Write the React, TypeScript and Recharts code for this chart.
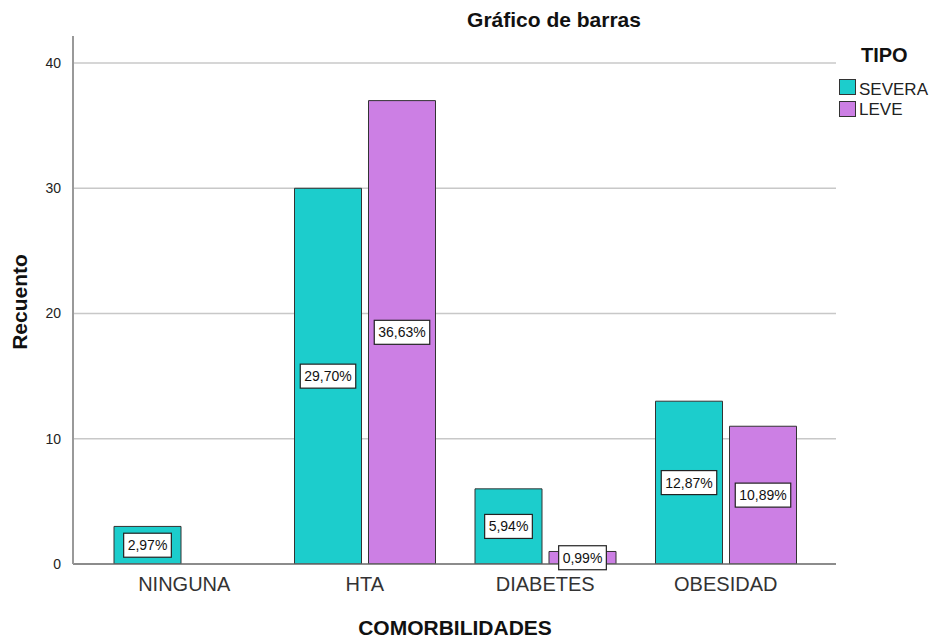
import React from 'react';
import { BarChart, Bar, XAxis, YAxis, CartesianGrid, LabelList } from 'recharts';

const categories = ['NINGUNA', 'HTA', 'DIABETES', 'OBESIDAD'];
const severa = [3, 30, 6, 13];
const leve: (number | null)[] = [null, 37, 1, 11];
const severaPct = ['2,97%', '29,70%', '5,94%', '12,87%'];
const levePct = ['', '36,63%', '0,99%', '10,89%'];
const yTicks = [0, 10, 20, 30, 40];
const gridValues = [10, 20, 30, 40];

const data = categories.map((c, i) => ({
  cat: c,
  severa: severa[i],
  leve: leve[i],
  severaPct: severaPct[i],
  levePct: levePct[i],
}));

const FONT = '"Liberation Sans", Arial, sans-serif';
const TEAL = '#1ccdcc';
const PURPLE = '#cc7fe4';

const charW = (ch: string) => (ch === ',' ? 0.278 : ch === '%' ? 0.889 : 0.556);

const PctLabel = (props: any) => {
  const { x, y, width, height, value } = props;
  if (!value) return null;
  const fs = 14;
  const tw = String(value).split('').reduce((s: number, ch: string) => s + charW(ch), 0) * fs;
  const w = tw + 8;
  const h = 24;
  const cx = Number(x) + Number(width) / 2;
  const cy = Number(y) + Number(height) / 2;
  return (
    <g>
      <rect x={cx - w / 2} y={cy - h / 2} width={w} height={h} fill="#fff" stroke="#222" strokeWidth={1.2} />
      <text x={cx} y={cy} textAnchor="middle" dominantBaseline="central" fontSize={fs} fontFamily={FONT} fill="#111">
        {value}
      </text>
    </g>
  );
};

export default function App() {
  return (
    <div style={{ position: 'absolute', left: 0, top: 0, width: 934, height: 639, background: '#fff', fontFamily: FONT }}>
      <BarChart
        width={934}
        height={639}
        data={data}
        margin={{ top: 36, right: 98, bottom: 45, left: 0 }}
        barGap={7}
        barCategoryGap={20}
      >
        <CartesianGrid horizontal vertical={false} horizontalValues={gridValues} stroke="#c8c8c8" strokeWidth={1.5} />
        <XAxis
          dataKey="cat"
          height={30}
          padding={{ left: 21, right: 20 }}
          tickLine={false}
          axisLine={{ stroke: '#666', strokeWidth: 1.3 }}
          tick={{ fontSize: 20, fill: '#333', fontFamily: FONT }}
          tickMargin={7}
        />
        <YAxis
          width={73}
          domain={[0, 42.16]}
          ticks={yTicks}
          tickLine={false}
          axisLine={{ stroke: '#999', strokeWidth: 2 }}
          tick={{ fontSize: 14, fill: '#222', fontFamily: FONT }}
          tickMargin={6}
          allowDataOverflow
        />
        <Bar dataKey="severa" fill={TEAL} stroke="#333" strokeWidth={1} isAnimationActive={false}>
          <LabelList dataKey="severaPct" content={PctLabel} />
        </Bar>
        <Bar dataKey="leve" fill={PURPLE} stroke="#333" strokeWidth={1} isAnimationActive={false}>
          <LabelList dataKey="levePct" content={PctLabel} />
        </Bar>
      </BarChart>
      <div style={{ position: 'absolute', left: 404, top: 8, width: 300, textAlign: 'center', fontSize: 21, fontWeight: 'bold', color: '#111', whiteSpace: 'nowrap' }}>
        Gráfico de barras
      </div>
      <div style={{ position: 'absolute', left: 305, top: 616, width: 300, textAlign: 'center', fontSize: 21, fontWeight: 'bold', color: '#111', whiteSpace: 'nowrap' }}>
        COMORBILIDADES
      </div>
      <div
        style={{
          position: 'absolute',
          left: 20 - 70,
          top: 302 - 12,
          width: 140,
          height: 24,
          lineHeight: '24px',
          textAlign: 'center',
          fontSize: 21,
          fontWeight: 'bold',
          color: '#111',
          transform: 'rotate(-90deg)',
          whiteSpace: 'nowrap',
        }}
      >
        Recuento
      </div>
      <div style={{ position: 'absolute', left: 861, top: 44, fontSize: 20, fontWeight: 'bold', color: '#111', lineHeight: '23px' }}>TIPO</div>
      <span style={{ position: 'absolute', left: 839, top: 79, width: 15, height: 14, background: TEAL, border: '1px solid #333' }} />
      <span style={{ position: 'absolute', left: 839, top: 101, width: 15, height: 14, background: PURPLE, border: '1px solid #333' }} />
      <div style={{ position: 'absolute', left: 859, top: 80, fontSize: 17, color: '#222', lineHeight: '20px' }}>SEVERA</div>
      <div style={{ position: 'absolute', left: 859, top: 100, fontSize: 17, color: '#222', lineHeight: '20px' }}>LEVE</div>
    </div>
  );
}
